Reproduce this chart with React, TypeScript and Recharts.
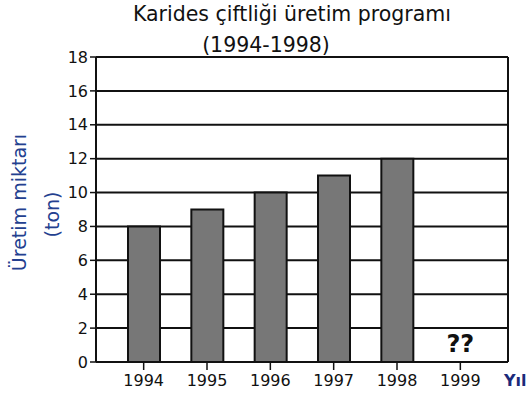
import React from 'react';
import { BarChart, Bar, XAxis, YAxis, CartesianGrid, ReferenceDot } from 'recharts';

// values
const years = ['1994', '1995', '1996', '1997', '1998', '1999'];
const production = [8, 9, 10, 11, 12, null];
const yTicks = [0, 2, 4, 6, 8, 10, 12, 14, 16, 18];
const titleLines = ['Karides çiftliği üretim programı', '(1994-1998)'];
const yLabelLines = ['Üretim miktarı', '(ton)'];
const xLabel = 'Yıl';
const unknownYear = '1999';
const unknownMark = '??';

const data = years.map((year, i) => ({ year, value: production[i] }));

const FONT = '"DejaVu Sans", sans-serif';
const NAVY = '#23408f';
const INK = '#111';

const renderYLabel = (props: any) => {
  const { x, y, height } = props.viewBox;
  const cy = y + height / 2;
  return (
    <g fontFamily={FONT} fontSize={19} fill={NAVY}>
      <text
        x={x + 19}
        y={cy - 7}
        textAnchor="middle"
        dominantBaseline="central"
        transform={`rotate(-90, ${x + 19}, ${cy - 7})`}
      >
        {yLabelLines[0]}
      </text>
      <text
        x={x + 52}
        y={cy + 5}
        textAnchor="middle"
        dominantBaseline="central"
        transform={`rotate(-90, ${x + 52}, ${cy + 5})`}
      >
        {yLabelLines[1]}
      </text>
    </g>
  );
};

const renderXLabel = (props: any) => {
  const { x, y, width } = props.viewBox;
  return (
    <text x={x + width - 4} y={y + 24} fontFamily={FONT} fontSize={16} fontWeight="bold" fill="#1b2a7a">
      {xLabel}
    </text>
  );
};

export default function App() {
  return (
    <div style={{ position: 'absolute', left: 0, top: 0, width: 530, height: 400, background: '#fff' }}>
      <BarChart
        width={530}
        height={400}
        data={data}
        margin={{ top: 57, right: 22, bottom: 0, left: 0 }}
        barCategoryGap={0}
      >
        <CartesianGrid
          stroke={INK}
          strokeWidth={2}
          verticalCoordinatesGenerator={({ offset }: any) => [offset.left, offset.left + offset.width]}
        />
        <XAxis
          dataKey="year"
          height={38}
          padding={{ left: 16, right: 16 }}
          tickSize={8}
          tickMargin={5}
          axisLine={{ stroke: INK, strokeWidth: 2 }}
          tickLine={{ stroke: INK, strokeWidth: 1.5 }}
          tick={{ fontFamily: FONT, fontSize: 16, fill: INK }}
          label={{ content: renderXLabel }}
        />
        <YAxis
          width={96}
          domain={[0, 18]}
          ticks={yTicks}
          interval={0}
          tickSize={6}
          tickMargin={2}
          axisLine={{ stroke: INK, strokeWidth: 2 }}
          tickLine={{ stroke: INK, strokeWidth: 1.5 }}
          tick={{ fontFamily: FONT, fontSize: 16, fill: INK }}
          label={{ content: renderYLabel }}
        />
        <Bar
          dataKey="value"
          barSize={32}
          fill="#777"
          stroke={INK}
          strokeWidth={2}
          isAnimationActive={false}
        />
        <ReferenceDot
          x={unknownYear}
          y={1.1}
          r={0}
          stroke="none"
          fill="none"
          label={{
            value: unknownMark,
            position: 'center',
            fontFamily: FONT,
            fontSize: 24,
            fontWeight: 'bold',
            fill: INK,
          }}
        />
      </BarChart>
      <svg
        width={530}
        height={400}
        style={{ position: 'absolute', left: 0, top: 0, pointerEvents: 'none' }}
      >
        <text x={292} y={21} textAnchor="middle" fontFamily={FONT} fontSize={20.5} fill={INK}>
          {titleLines[0]}
        </text>
        <text x={266} y={52} textAnchor="middle" fontFamily={FONT} fontSize={20.5} fill={INK}>
          {titleLines[1]}
        </text>
      </svg>
    </div>
  );
}
